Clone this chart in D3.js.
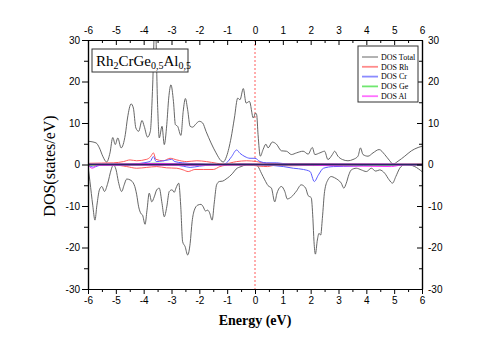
<!DOCTYPE html>
<html>
<head>
<meta charset="utf-8">
<script src="https://cdn.jsdelivr.net/npm/d3@7"></script>
<style>
  body { margin: 0; background: #fff; }
  svg text { fill: #000; }
</style>
</head>
<body>
<div id="chart"></div>
<script>
// energy range and DOS range
var xTicks = [-6, -5, -4, -3, -2, -1, 0, 1, 2, 3, 4, 5, 6];
var yTicks = [-30, -20, -10, 0, 10, 20, 30];

// [energy, DOS]
var totalUp = [[-6.0,5.6],[-5.71,5.2],[-5.59,4.0],[-5.47,2.0],[-5.33,0.6],[-5.21,2.8],[-5.11,6.5],[-5.02,4.8],
  [-4.93,6.4],[-4.81,4.0],[-4.66,7.2],[-4.58,11.2],[-4.45,14.6],[-4.37,13.6],[-4.28,8.8],[-4.18,8.0],[-4.06,10.6],
  [-3.98,9.2],[-3.86,6.6],[-3.76,8.0],[-3.68,18.4],[-3.59,36],[-3.50,14.4],[-3.44,6.4],[-3.34,9.2],[-3.26,4.8],
  [-3.17,9.6],[-3.10,16.0],[-3.02,19.2],[-2.93,15.2],[-2.86,9.6],[-2.78,9.2],[-2.66,7.0],[-2.58,12.8],[-2.50,15.9],
  [-2.42,13.2],[-2.33,9.2],[-2.24,9.0],[-2.12,9.8],[-2.00,10.4],[-1.88,10.0],[-1.76,8.0],[-1.58,5.2],[-1.40,2.8],
  [-1.22,0.9],[-1.14,0.6],[-1.02,2.0],[-0.86,6.4],[-0.74,11.2],[-0.62,16.0],[-0.54,15.6],[-0.42,18.3],[-0.32,14.8],
  [-0.20,15.2],[-0.06,11.2],[0.02,12.4],[0.06,12.0],[0.11,7.2],[0.19,2.0],[0.29,3.6],[0.39,4.9],[0.47,4.0],
  [0.62,5.4],[0.77,4.9],[0.95,3.3],[1.13,3.2],[1.31,2.4],[1.49,2.8],[1.73,3.2],[1.91,2.5],[2.06,4.1],[2.15,2.4],
  [2.33,2.8],[2.50,3.2],[2.62,1.2],[2.78,2.4],[2.86,3.2],[2.98,2.0],[3.14,1.2],[3.34,0.9],[3.52,1.2],[3.70,2.0],
  [3.79,4.0],[3.88,2.4],[4.06,2.0],[4.24,2.8],[4.46,3.6],[4.66,2.4],[4.84,0.9],[4.96,0.1],[5.14,0.8],[5.38,2.0],
  [5.62,3.3],[5.86,4.1],[6.0,4.4]];

var totalDown = [[-6.0,-0.5],[-5.93,-4.1],[-5.83,-9.8],[-5.75,-13.4],[-5.68,-9.8],[-5.59,-6.1],[-5.50,-5.3],
  [-5.41,-6.5],[-5.29,-4.5],[-5.17,-1.3],[-5.09,-0.1],[-4.99,-1.3],[-4.91,-4.1],[-4.79,-6.5],[-4.70,-4.9],
  [-4.61,-3.5],[-4.49,-3.7],[-4.34,-4.9],[-4.25,-7.3],[-4.18,-10.2],[-4.10,-11.8],[-4.04,-12.2],[-3.95,-14.4],
  [-3.88,-11.0],[-3.80,-6.9],[-3.71,-9.0],[-3.62,-7.8],[-3.53,-6.1],[-3.44,-5.7],[-3.34,-9.4],[-3.26,-12.6],
  [-3.17,-10.2],[-3.08,-6.5],[-2.98,-6.1],[-2.90,-6.7],[-2.84,-5.7],[-2.74,-4.5],[-2.67,-9.8],[-2.60,-18.6],
  [-2.51,-19.8],[-2.42,-21.8],[-2.33,-19.0],[-2.26,-13.8],[-2.18,-11.0],[-2.06,-9.8],[-1.94,-9.6],[-1.86,-10.2],
  [-1.78,-11.2],[-1.70,-11.0],[-1.64,-11.5],[-1.54,-13.4],[-1.46,-9.0],[-1.38,-4.9],[-1.28,-4.1],[-1.16,-4.0],
  [-1.04,-3.5],[-0.92,-2.9],[-0.80,-2.1],[-0.68,-1.1],[-0.50,-0.5],[-0.32,-0.1],[-0.08,0.0],[0.0,0.0],
  [0.11,-0.5],[0.23,-2.1],[0.35,-3.7],[0.47,-5.1],[0.59,-5.7],[0.71,-9.0],[0.79,-6.9],[0.95,-5.3],[1.07,-6.5],
  [1.16,-8.3],[1.31,-7.8],[1.49,-6.4],[1.66,-4.9],[1.82,-5.7],[1.91,-7.5],[2.02,-8.0],[2.08,-13.0],[2.12,-18.6],
  [2.17,-21.6],[2.24,-18.2],[2.30,-16.6],[2.36,-17.0],[2.42,-13.0],[2.50,-6.5],[2.62,-3.7],[2.74,-2.9],
  [2.86,-3.2],[2.98,-3.7],[3.10,-4.5],[3.19,-5.7],[3.28,-4.5],[3.37,-2.5],[3.46,-1.3],[3.64,-0.9],[3.82,-1.3],
  [4.00,-1.7],[4.18,-0.9],[4.34,-1.6],[4.48,-1.3],[4.66,-2.1],[4.82,-3.7],[4.94,-4.5],[5.06,-2.9],[5.20,-0.9],
  [5.38,0.0],[5.56,-0.1],[5.74,-0.5],[6.0,-1.7]];

var rhUp = [[-6.0,0.2],[-5.93,0.3],[-5.09,0.4],[-4.73,0.7],[-4.49,1.1],[-4.25,0.9],[-3.89,1.25],[-3.75,1.9],
  [-3.65,2.8],[-3.56,1.25],[-3.29,0.9],[-3.05,1.5],[-2.81,1.1],[-2.45,0.7],[-2.09,0.9],[-1.74,0.7],[-1.38,0.3],
  [-1.14,0.1],[-0.66,0.7],[-0.30,0.9],[0.06,0.7],[0.42,0.3],[1.0,0.2],[2.0,0.2],[3.0,0.1],[4.0,0.1],[5.0,0.05],[6.0,0.1]];
var rhDown = [[-6.0,-0.1],[-5.57,-0.1],[-5.09,-0.1],[-4.61,-0.5],[-4.25,-0.9],[-3.89,-0.7],[-3.53,-0.5],
  [-3.18,-0.8],[-2.81,-0.9],[-2.58,-1.3],[-2.40,-1.7],[-2.16,-1.2],[-1.86,-1.2],[-1.50,-1.2],[-1.26,-0.5],
  [-0.90,-0.1],[-0.3,-0.1],[0.18,-0.4],[0.45,-0.5],[0.7,-0.2],[1.2,-0.3],[2.0,-0.2],[3.0,-0.1],[4.0,-0.1],[6.0,-0.1]];

var crUp = [[-6.0,0.0],[-4.5,0.1],[-3.77,0.7],[-3.65,1.9],[-3.55,0.7],[-3.12,1.1],[-3.00,1.25],[-2.88,0.7],
  [-2.6,0.4],[-2.22,0.2],[-1.14,0.0],[-1.02,0.4],[-0.84,1.9],[-0.66,3.5],[-0.54,2.7],[-0.36,1.9],[-0.18,1.5],
  [0.0,1.5],[0.18,0.7],[0.42,0.4],[0.78,0.4],[1.2,0.1],[2.0,0.1],[4.0,0.05],[6.0,0.0]];
var crDown = [[-6.0,-0.2],[-5.8,-0.6],[-5.5,-0.1],[-3.0,-0.1],[-2.58,-0.4],[-2.33,-0.7],[-2.0,-0.4],[-1.14,0.0],
  [0.0,0.0],[0.3,-0.1],[1.02,-0.5],[1.38,-0.9],[1.74,-1.2],[1.98,-1.7],[2.13,-4.1],[2.28,-2.5],[2.46,-0.9],
  [2.82,-0.5],[3.54,-0.4],[4.26,-0.1],[6.0,-0.1]];

var geUp = [[-6.0,0.1],[-4.5,0.15],[-3.6,0.3],[-2.5,0.15],[-1.2,0.05],[-0.5,0.2],[0.3,0.1],[2.0,0.1],[4.0,0.05],[6.0,0.05]];
var geDown = [[-6.0,-0.1],[-4.5,-0.15],[-2.5,-0.2],[-1.2,-0.05],[0.3,-0.1],[2.1,-0.25],[4.0,-0.1],[6.0,-0.05]];
var alUp = [[-6.0,0.1],[-4.5,0.15],[-3.6,0.25],[-2.5,0.15],[-1.2,0.05],[-0.5,0.15],[0.3,0.1],[2.0,0.1],[4.9,0.1],[6.0,0.05]];
var alDown = [[-6.0,-0.1],[-5.85,-0.9],[-5.65,-0.2],[-4.5,-0.15],[-2.5,-0.2],[0.3,-0.1],[2.1,-0.2],[4.9,-0.5],[5.3,-0.1],[6.0,-0.05]];

var legendNames = ["DOS Total", "DOS Rh", "DOS Cr", "DOS Ge", "DOS Al"];
var seriesColors = ["#555555", "#ff5a5a", "#5a5aff", "#33dd33", "#ff33ff"];

var svgW = 491, svgH = 347,
    padL = 88, padR = 422, padT = 40, padB = 289;

var svg = d3.select("#chart").append("svg")
    .attr("width", svgW)
    .attr("height", svgH);

var x = d3.scaleLinear().domain([-6, 6]).range([padL, padR]);
var y = d3.scaleLinear().domain([-30, 30]).range([padB, padT]);

svg.append("clipPath").attr("id", "plotclip")
  .append("rect")
    .attr("x", padL).attr("y", padT)
    .attr("width", padR - padL).attr("height", padB - padT);

var line = d3.line()
    .x(function(d) { return x(d[0]); })
    .y(function(d) { return y(d[1]); })
    .curve(d3.curveMonotoneX);

var plot = svg.append("g").attr("clip-path", "url(#plotclip)");

// fermi level
plot.append("line")
    .attr("x1", x(0)).attr("x2", x(0))
    .attr("y1", padT).attr("y2", padB)
    .attr("stroke", "#ff3030")
    .attr("stroke-width", 0.8)
    .attr("stroke-dasharray", "2,2");

var curves = [
  [totalUp, 0], [totalDown, 0],
  [rhUp, 1], [rhDown, 1],
  [crUp, 2], [crDown, 2],
  [geUp, 3], [geDown, 3],
  [alUp, 4], [alDown, 4]
];

curves.forEach(function(c) {
  plot.append("path")
      .datum(c[0])
      .attr("fill", "none")
      .attr("stroke", seriesColors[c[1]])
      .attr("stroke-width", c[1] === 0 ? 0.9 : 1)
      .attr("d", line);
});

// dark zero line where all partial curves overlap
plot.append("line")
    .attr("x1", padL).attr("x2", padR)
    .attr("y1", y(0)).attr("y2", y(0))
    .attr("stroke", "#2a2466")
    .attr("stroke-width", 1.6);

// axes
var tickFont = "10px 'Liberation Sans', Arial, sans-serif";
var minorX = d3.range(-5.5, 6, 1);
var minorY = [-25, -15, -5, 5, 15, 25];
var plain = function(d) { return String(d); };

function styleAxis(g) {
  g.selectAll("path").attr("stroke", "#000").attr("stroke-width", 1.2);
  g.selectAll("line").attr("stroke", "#000").attr("stroke-width", 1);
  g.selectAll("text").style("font", tickFont);
}

svg.append("g").attr("transform", "translate(0," + padB + ")")
    .call(d3.axisBottom(x).tickValues(xTicks).tickFormat(plain).tickSize(5).tickPadding(3).tickSizeOuter(0))
    .call(styleAxis);
svg.append("g").attr("transform", "translate(0," + padB + ")")
    .call(d3.axisBottom(x).tickValues(minorX).tickSize(3).tickFormat("").tickSizeOuter(0))
    .call(styleAxis);

svg.append("g").attr("transform", "translate(0," + padT + ")")
    .call(d3.axisTop(x).tickValues(xTicks).tickFormat(plain).tickSize(-5).tickPadding(6).tickSizeOuter(0))
    .call(styleAxis);
svg.append("g").attr("transform", "translate(0," + padT + ")")
    .call(d3.axisTop(x).tickValues(minorX).tickSize(-3).tickFormat("").tickSizeOuter(0))
    .call(styleAxis);

svg.append("g").attr("transform", "translate(" + padL + ",0)")
    .call(d3.axisLeft(y).tickValues(yTicks).tickFormat(plain).tickSize(6).tickPadding(2).tickSizeOuter(0))
    .call(styleAxis);
svg.append("g").attr("transform", "translate(" + padL + ",0)")
    .call(d3.axisLeft(y).tickValues(minorY).tickSize(4).tickFormat("").tickSizeOuter(0))
    .call(styleAxis);

svg.append("g").attr("transform", "translate(" + padR + ",0)")
    .call(d3.axisRight(y).tickValues(yTicks).tickFormat(plain).tickSize(-5).tickPadding(6).tickSizeOuter(0))
    .call(styleAxis);
svg.append("g").attr("transform", "translate(" + padR + ",0)")
    .call(d3.axisRight(y).tickValues(minorY).tickSize(-3).tickFormat("").tickSizeOuter(0))
    .call(styleAxis);

// axis titles
svg.append("text")
    .attr("transform", "translate(55,166) rotate(-90)")
    .attr("text-anchor", "middle")
    .style("font", "16px 'Liberation Serif', 'Times New Roman', serif")
    .text("DOS(states/eV)");

svg.append("text")
    .attr("x", x(0))
    .attr("y", 325)
    .attr("text-anchor", "middle")
    .style("font", "bold 14px 'Liberation Serif', 'Times New Roman', serif")
    .text("Energy (eV)");

// compound label box
svg.append("rect")
    .attr("x", 92).attr("y", 49)
    .attr("width", 96).attr("height", 23)
    .attr("fill", "#fff")
    .attr("stroke", "#333")
    .attr("stroke-width", 1);

var title = svg.append("text")
    .attr("x", 96).attr("y", 66)
    .style("font", "15px 'Liberation Serif', 'Times New Roman', serif");
title.append("tspan").text("Rh");
title.append("tspan").attr("dy", 3).style("font-size", "10px").text("2");
title.append("tspan").attr("dy", -3).text("CrGe");
title.append("tspan").attr("dy", 3).style("font-size", "10px").text("0,5");
title.append("tspan").attr("dy", -3).text("Al");
title.append("tspan").attr("dy", 3).style("font-size", "10px").text("0,5");

// legend
var legend = svg.append("g");
legend.append("rect")
    .attr("x", 358).attr("y", 46)
    .attr("width", 60).attr("height", 56)
    .attr("fill", "#fff")
    .attr("stroke", "#333")
    .attr("stroke-width", 1);

legendNames.forEach(function(name, i) {
  var ly = 57 + i * 9.8;
  legend.append("line")
      .attr("x1", 362).attr("x2", 378)
      .attr("y1", ly).attr("y2", ly)
      .attr("stroke", seriesColors[i])
      .attr("stroke-opacity", i === 0 ? 1 : 0.7)
      .attr("stroke-width", i === 0 ? 0.9 : 1.8);
  legend.append("text")
      .attr("x", 381).attr("y", ly + 2.8)
      .style("font", "8px 'Liberation Serif', 'Times New Roman', serif")
      .text(name);
});
</script>
</body>
</html>
